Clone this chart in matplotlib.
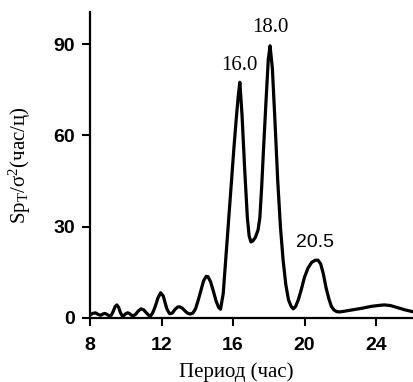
import matplotlib
matplotlib.use("Agg")
import matplotlib.pyplot as plt

# spectrum: period (hours) and Sp_T / sigma^2
period = [8.0, 8.15, 8.3, 8.45, 8.6, 8.75, 8.85, 9.0, 9.1, 9.2, 9.3, 9.4, 9.5, 9.6,
          9.7, 9.8, 9.9, 10.0, 10.1, 10.2, 10.3, 10.42, 10.55, 10.7, 10.85, 11.0,
          11.15, 11.3, 11.4, 11.5, 11.65, 11.8, 11.95, 12.1, 12.2, 12.3, 12.45,
          12.6, 12.75, 12.9, 13.0, 13.15, 13.3, 13.45, 13.6, 13.75, 13.9, 14.05,
          14.2, 14.35, 14.5, 14.6, 14.75, 14.9, 15.05, 15.2, 15.3, 15.45, 15.6,
          15.75, 15.9, 16.05, 16.2, 16.3, 16.38, 16.5, 16.65, 16.8, 16.9, 17.0,
          17.1, 17.25, 17.4, 17.5, 17.6, 17.7, 17.85, 17.97, 18.07, 18.2, 18.35,
          18.5, 18.65, 18.8, 18.95, 19.1, 19.25, 19.37, 19.5, 19.65, 19.8, 20.0,
          20.2, 20.4, 20.6, 20.75, 20.9, 21.05, 21.2, 21.35, 21.5, 21.65, 21.8,
          21.95, 22.2, 22.5, 22.9, 23.3, 23.7, 24.1, 24.45, 24.8, 25.2, 25.6, 26.1]
power = [1.0, 1.5, 1.7, 1.2, 0.9, 1.4, 1.5, 1.0, 0.6, 1.0, 2.2, 3.7, 4.3, 3.5,
         1.8, 0.7, 0.9, 1.4, 1.7, 1.5, 1.0, 0.7, 1.2, 2.3, 3.0, 2.7,
         1.7, 0.8, 0.8, 1.6, 3.8, 6.6, 8.3, 7.2, 5.0, 3.0, 1.4,
         1.6, 2.8, 3.6, 3.7, 3.3, 2.4, 1.6, 1.3, 1.6, 3.0, 5.8,
         9.0, 12.2, 13.7, 13.6, 11.8, 8.8, 5.6, 3.4, 2.9, 8.0, 20.0,
         32.0, 44.0, 56.0, 67.0, 73.5, 77.5, 67.0, 49.0, 33.0, 27.0, 25.0,
         25.3, 26.5, 29.0, 33.0, 43.0, 55.0, 72.0, 85.0, 89.5, 82.0, 64.0,
         45.0, 30.0, 19.0, 11.0, 6.0, 3.8, 3.0, 3.8, 6.0, 9.0, 13.5,
         16.5, 18.3, 19.0, 19.0, 17.8, 14.5, 10.0, 6.5, 3.8, 2.6, 2.1,
         2.0, 2.2, 2.5, 2.9, 3.3, 3.8, 4.1, 4.3, 4.1, 3.4, 2.7, 2.0]

peak_labels = ["16.0", "18.0", "20.5"]
peak_at = [16.38, 18.07, 20.75]
peak_val = [77.5, 89.5, 19.0]

xticks = [8, 12, 16, 20, 24]
yticks = [0, 30, 60, 90]

plt.rcParams["mathtext.fontset"] = "custom"
plt.rcParams["mathtext.rm"] = "Liberation Serif"
plt.rcParams["mathtext.it"] = "Liberation Serif"

fig = plt.figure(figsize=(4.14, 3.82), dpi=100)
ax = fig.add_axes([90 / 414, 1 - 318 / 382, 324 / 414, 306 / 382])

ax.plot(period, power, color="black", lw=2.3, solid_joinstyle="round")

ax.set_xlim(8, 26.12)
ax.set_ylim(0, 100.6)
ax.spines["top"].set_visible(False)
ax.spines["right"].set_visible(False)
ax.spines["left"].set_linewidth(1.6)
ax.spines["bottom"].set_linewidth(1.6)
ax.set_xticks(xticks)
ax.set_yticks(yticks)
ax.tick_params(axis="both", direction="out", length=6, width=1.5)
ax.tick_params(axis="x", pad=8)
ax.tick_params(axis="y", pad=5)
for lab in ax.get_xticklabels() + ax.get_yticklabels():
    lab.set_fontfamily("Liberation Sans")
    lab.set_fontweight("bold")
    lab.set_fontsize(14)

ax.set_xlabel("Период (час)", family="Liberation Serif", fontsize=15)
ax.xaxis.set_label_coords(0.452, -0.145)
ax.set_ylabel(r"Sp$_{\rm T}$/σ$^{2}$(час/ц)", family="Liberation Serif",
              fontsize=15)
ax.yaxis.set_label_coords(-0.175, 0.5)

offsets = [(0, 12), (0, 13), (-2, 13)]
fams = ["Liberation Serif", "Liberation Serif", "Liberation Sans"]
sizes = [15, 15, 14]
for lab, px, pv, off, fam, fs in zip(peak_labels, peak_at, peak_val, offsets,
                                     fams, sizes):
    ax.annotate(lab, (px, pv), xytext=off, textcoords="offset points",
                ha="center", va="center", family=fam, fontsize=fs)

fig.savefig("out.png", dpi=100)
